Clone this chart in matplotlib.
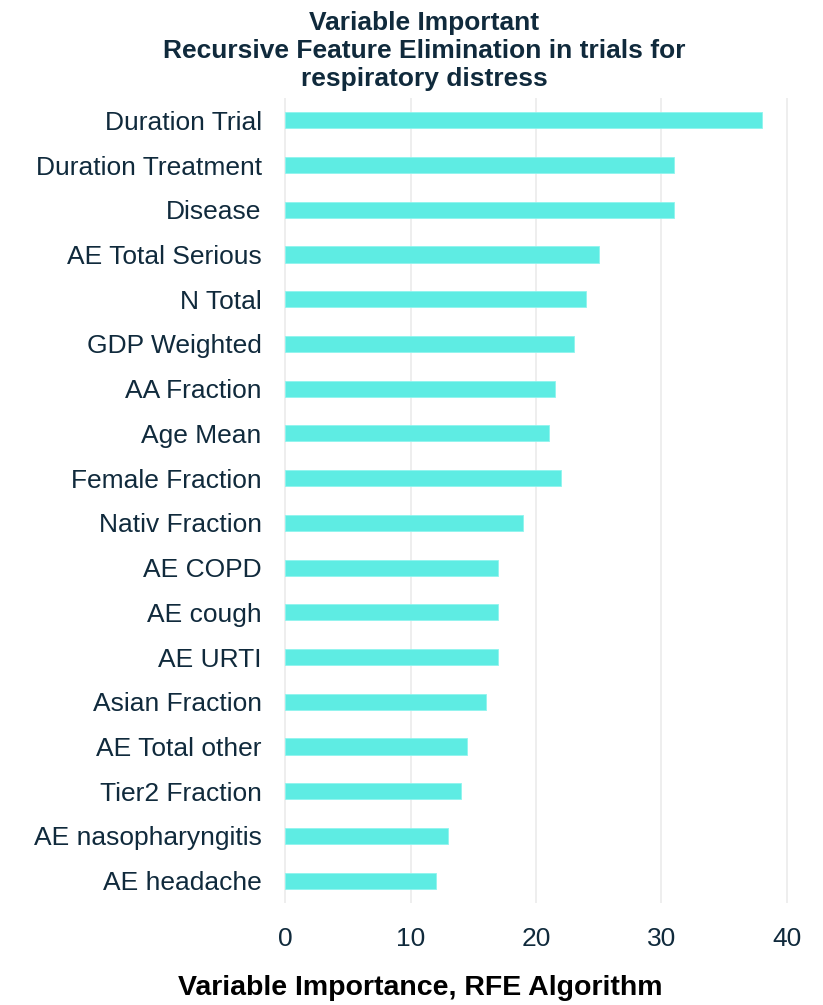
import matplotlib
matplotlib.use("Agg")
import matplotlib.pyplot as plt

features = ["Duration Trial", "Duration Treatment", "Disease", "AE Total Serious",
            "N Total", "GDP Weighted", "AA Fraction", "Age Mean", "Female Fraction",
            "Nativ Fraction", "AE COPD", "AE cough", "AE URTI", "Asian Fraction",
            "AE Total other", "Tier2 Fraction", "AE nasopharyngitis", "AE headache"]
importance = [38, 31, 31, 25, 24, 23, 21.5, 21, 22, 19, 17, 17, 17, 16, 14.5, 14, 13, 12]
xticks = [0, 10, 20, 30, 40]

plt.rcParams['font.family'] = ['Liberation Sans', 'DejaVu Sans']
text_color = "#102a3c"
bar_color = "#5eece3"

W, H = 823, 1005
fig = plt.figure(figsize=(W / 100, H / 100), dpi=100)
ax = fig.add_axes([270 / W, (H - 903) / H, (800 - 270) / W, (903 - 98) / H])

n = len(features)
ypos = list(range(n - 1, -1, -1))
ax.barh(ypos, importance, height=0.36, color=bar_color, edgecolor="#8ff4ee", linewidth=0.6, zorder=3)

ax.set_yticks(ypos)
ax.set_yticklabels(features, fontsize=19, color=text_color)
ax.set_xticks(xticks)
ax.set_xticklabels([str(t) for t in xticks], fontsize=19, color=text_color)
ax.set_xlim(-1.2, 41.04)
ax.set_ylim(-0.5, n - 0.5)
ax.tick_params(axis="y", length=0, pad=6)
ax.tick_params(axis="x", length=0, pad=17)
ax.grid(axis="x", color="#ebebeb", linewidth=1.2, zorder=0)
ax.grid(axis="y", visible=False)
for s in ax.spines.values():
    s.set_visible(False)

fig.text(420 / W, 1 - 988 / H, "Variable Importance, RFE Algorithm", fontsize=20.5,
         fontweight="bold", color="black", ha="center", va="center")

fig.text(424 / W, 1 - 51 / H,
         "Variable Important\nRecursive Feature Elimination in trials for\nrespiratory distress",
         ha="center", va="center", fontsize=19, fontweight="bold", color=text_color,
         linespacing=1.2)

fig.savefig("out.png", dpi=100)
